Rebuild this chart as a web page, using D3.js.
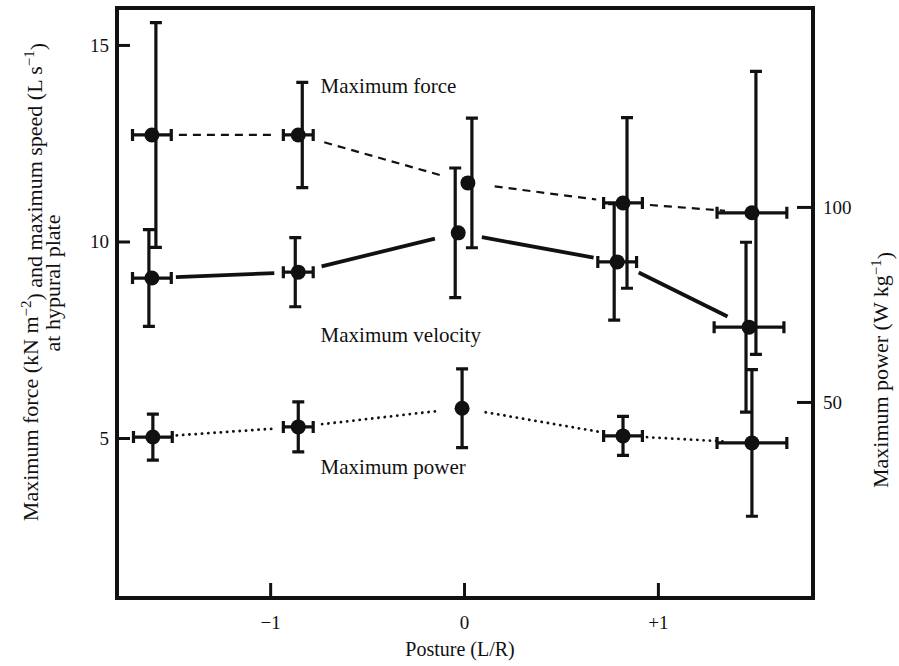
<!DOCTYPE html>
<html>
<head>
<meta charset="utf-8">
<script src="https://cdn.jsdelivr.net/npm/d3@7"></script>
<style>
  body { margin: 0; background: #fff; }
  text { font-family: "Liberation Serif", "DejaVu Serif", serif; fill: #111; }
</style>
</head>
<body>
<div id="chartContainer"></div>
<script>
// Chart size and frame
const w = 899;
const h = 666;
const margins = { top: 8, left: 117, bottom: 68, right: 86 };
const innerWidth = w - margins.left - margins.right;
const innerHeight = h - margins.top - margins.bottom;

// Axis ticks
const xTicks = [-1, 0, 1];
const xTickLabels = ["\u22121", "0", "+1"];
const leftTicks = [5, 10, 15];
const rightTicks = [50, 100];

// Maximum force (kN m-2), left axis
const forceX = [-1.61, -0.855, 0.02, 0.82, 1.485];
const forceY = [12.71, 12.71, 11.49, 10.98, 10.73];
const forceErr = [2.86, 1.34, 1.65, 2.17, 3.6];

// Maximum velocity (L s-1), left axis
const velX = [-1.61, -0.855, -0.03, 0.79, 1.47];
const velY = [9.07, 9.22, 10.22, 9.48, 7.82];
const velErr = [1.23, 0.88, 1.65, 1.48, 2.16];

// Maximum power (W kg-1), right axis
const powX = [-1.605, -0.855, -0.01, 0.82, 1.485];
const powY = [41.0, 43.6, 48.4, 41.3, 39.5];
const powErr = [5.9, 6.4, 10.1, 5.0, 18.8];

// Posture spread (horizontal error), same for the three series
const postureErr = [0.1, 0.077, 0, 0.1, 0.18];

const svg = d3.select("#chartContainer")
  .append("svg")
    .attr("width", w)
    .attr("height", h);

const mainG = svg.append("g")
  .attr("transform", `translate(${margins.left}, ${margins.top})`);

// Scales
const xScale = d3.scaleLinear().domain([-1.79, 1.8]).range([0, innerWidth]);
const yLeft = d3.scaleLinear().domain([0.93, 15.94]).range([innerHeight, 0]);
const yRight = d3.scaleLinear().domain([-0.26, 151]).range([innerHeight, 0]);

const labelSize = 21;
const titleSize = 22;
const tickSize = 19;

// Axes: ticks point inwards, no domain line (frame drawn after)
const axisStyle = g => {
  g.select(".domain").remove();
  g.selectAll(".tick line").attr("stroke", "#111").attr("stroke-width", 3);
  g.selectAll(".tick text")
    .attr("font-size", tickSize)
    .attr("font-family", "Liberation Serif, serif")
    .attr("fill", "#111");
};

mainG.append("g")
  .attr("transform", `translate(0, ${innerHeight})`)
  .call(d3.axisTop(xScale).tickValues(xTicks).tickSize(15)
    .tickFormat((d, i) => xTickLabels[i]))
  .call(axisStyle)
  .call(g => g.selectAll(".tick text").attr("y", 18).attr("dy", "0.71em"));

mainG.append("g")
  .call(d3.axisRight(yLeft).tickValues(leftTicks).tickSize(13).tickFormat(d3.format("d")))
  .call(axisStyle)
  .call(g => g.selectAll(".tick text").attr("x", -8).attr("text-anchor", "end"));

mainG.append("g")
  .attr("transform", `translate(${innerWidth}, 0)`)
  .call(d3.axisLeft(yRight).tickValues(rightTicks).tickSize(16).tickFormat(d3.format("d")))
  .call(axisStyle)
  .call(g => g.selectAll(".tick text").attr("x", 10).attr("text-anchor", "start"));

// Frame
mainG.append("rect")
  .attr("x", 0).attr("y", 0)
  .attr("width", innerWidth).attr("height", innerHeight)
  .attr("fill", "none")
  .attr("stroke", "#111")
  .attr("stroke-width", 4);

// Series
const series = [
  { xs: forceX, ys: forceY, err: forceErr, y: yLeft, nudge: 4, dash: "8,6", lw: 2.2, gap: 27, round: false },
  { xs: velX, ys: velY, err: velErr, y: yLeft, nudge: -3, dash: null, lw: 3.8, gap: 24, round: false },
  { xs: powX, ys: powY, err: powErr, y: yRight, nudge: 0, dash: "0.1,6.2", lw: 2.8, gap: 24, round: true }
];

const cap = 6;

series.forEach(s => {
  const pts = s.xs.map((x, i) => ({
    px: xScale(x),
    py: s.y(s.ys[i]),
    top: s.y(s.ys[i] + s.err[i]),
    bot: s.y(s.ys[i] - s.err[i]),
    xl: xScale(x - postureErr[i]),
    xr: xScale(x + postureErr[i]),
    hasX: postureErr[i] > 0
  }));

  // Connecting segments, stopped short of the points
  const segs = d3.pairs(pts).map(([a, b]) => {
    const dx = b.px - a.px, dy = b.py - a.py;
    const len = Math.hypot(dx, dy);
    const ux = dx / len, uy = dy / len;
    return [a.px + ux * s.gap, a.py + uy * s.gap, b.px - ux * s.gap, b.py - uy * s.gap];
  });

  mainG.selectAll(null)
    .data(segs)
    .enter()
    .append("line")
      .attr("x1", d => d[0]).attr("y1", d => d[1])
      .attr("x2", d => d[2]).attr("y2", d => d[3])
      .attr("stroke", "#111")
      .attr("stroke-width", s.lw)
      .attr("stroke-dasharray", s.dash)
      .attr("stroke-linecap", s.round ? "round" : "butt");

  const g = mainG.append("g").attr("stroke", "#111").attr("stroke-width", 3.2);

  // Vertical error bars
  g.selectAll(null).data(pts).enter().append("path")
    .attr("fill", "none")
    .attr("d", d => {
      const x = d.px + s.nudge;
      return `M${x},${d.top}V${d.bot}M${x - cap},${d.top}H${x + cap}M${x - cap},${d.bot}H${x + cap}`;
    });

  // Horizontal (posture) error bars
  g.selectAll(null).data(pts.filter(d => d.hasX)).enter().append("path")
    .attr("fill", "none")
    .attr("d", d => `M${d.xl},${d.py}H${d.xr}M${d.xl},${d.py - cap}V${d.py + cap}M${d.xr},${d.py - cap}V${d.py + cap}`);

  // Points
  mainG.selectAll(null).data(pts).enter().append("circle")
    .attr("cx", d => d.px)
    .attr("cy", d => d.py)
    .attr("r", 7.5)
    .attr("fill", "#111");
});

// Series labels
const labels = [
  { text: "Maximum force", v: 13.78, y: yLeft },
  { text: "Maximum velocity", v: 7.44, y: yLeft },
  { text: "Maximum power", v: 31.5, y: yRight }
];
mainG.selectAll(null).data(labels).enter().append("text")
  .attr("x", xScale(-0.74))
  .attr("y", d => d.y(d.v))
  .attr("font-size", labelSize)
  .text(d => d.text);

// Axis titles
const lt = svg.append("text")
  .attr("transform", "translate(38, 282) rotate(-90)")
  .attr("text-anchor", "middle")
  .attr("font-size", titleSize);
lt.append("tspan").text("Maximum force (kN m");
lt.append("tspan").attr("dy", "-0.5em").attr("font-size", 15).text("\u22122");
lt.append("tspan").attr("dy", "0.5em").text(") and maximum speed (L s");
lt.append("tspan").attr("dy", "-0.5em").attr("font-size", 15).text("\u22121");
lt.append("tspan").attr("dy", "0.5em").text(")");

svg.append("text")
  .attr("transform", "translate(60, 283) rotate(-90)")
  .attr("text-anchor", "middle")
  .attr("font-size", titleSize)
  .text("at hypural plate");

const rt = svg.append("text")
  .attr("transform", "translate(888, 370) rotate(-90)")
  .attr("text-anchor", "middle")
  .attr("font-size", titleSize);
rt.append("tspan").text("Maximum power (W kg");
rt.append("tspan").attr("dy", "-0.5em").attr("font-size", 15).text("\u22121");
rt.append("tspan").attr("dy", "0.5em").text(")");

svg.append("text")
  .attr("x", 460)
  .attr("y", 656)
  .attr("text-anchor", "middle")
  .attr("font-size", 20)
  .text("Posture (L/R)");
</script>
</body>
</html>
